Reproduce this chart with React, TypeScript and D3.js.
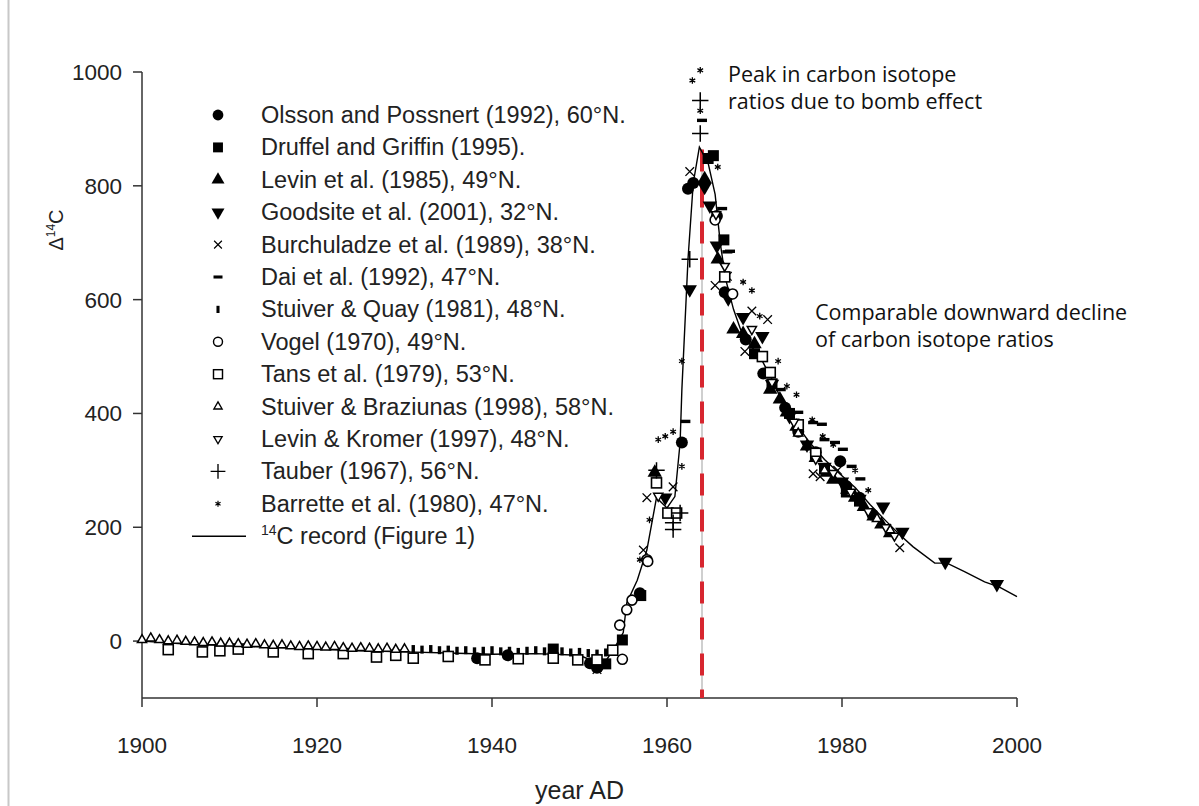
import * as d3 from "d3";
import React from "react";

// [year, delta14C]
const olsson = [
  [1938.3, -30], [1941.8, -25], [1951.2, -39], [1952, -47], [1956.9, 84],
  [1961.7, 349], [1962.4, 795], [1963, 805], [1965.7, 747], [1966.6, 613],
  [1969, 530], [1971, 470], [1973.5, 410], [1975, 368], [1977, 332],
  [1979.8, 316], [1980.5, 272], [1982, 252], [1983.5, 222],
];
const druffel = [
  [1947, -14], [1953, -40], [1954.9, 2], [1957, 80], [1964.7, 848],
  [1965.3, 853], [1966.5, 705], [1970, 505], [1972, 452], [1974, 400],
  [1978, 302], [1980.5, 262], [1982, 246],
];
const levin85 = [
  [1958.6, 296], [1964.3, 812], [1965.8, 671], [1967.6, 548], [1968.7, 540],
  [1970, 522], [1971.8, 442], [1972.9, 425], [1973.7, 402], [1974.8, 377],
  [1976, 342], [1977, 322], [1978.3, 296], [1979, 284], [1980.6, 266],
  [1981.5, 252], [1982.5, 236], [1983.6, 219], [1984.5, 205], [1985.5, 190],
];
const goodsite = [
  [1952.5, -40], [1959.8, 252], [1962.6, 618], [1964.3, 798], [1964.9, 765],
  [1965.7, 695], [1967, 602], [1968.7, 569], [1970.9, 536], [1972, 452],
  [1974, 395], [1976, 345], [1978, 306], [1980, 280], [1982, 250],
  [1984.7, 236], [1986.9, 192], [1991.8, 139], [1997.7, 100],
];
const burchuladze = [
  [1952, -50], [1957.3, 160], [1957.7, 252], [1960.7, 271], [1962.6, 825],
  [1965.5, 625], [1966.9, 641], [1968.9, 509], [1969.7, 580], [1971.5, 565],
  [1976.7, 294], [1977.5, 289], [1979.5, 300], [1986.6, 164],
];
const dai = [
  [1962.1, 386], [1964, 915], [1966.3, 760], [1966.9, 684], [1967.2, 685],
  [1973, 442], [1975, 402], [1976.7, 384], [1977.7, 381], [1978, 354],
  [1979.2, 349], [1980.1, 337], [1981.1, 307], [1982.1, 285],
];
const stuiverQuay = [
  [1931, -14], [1932, -15], [1933, -14], [1934, -16], [1935, -15], [1936, -17],
  [1937, -16], [1938, -18], [1939, -17], [1940, -16], [1941, -18], [1942, -17],
  [1943, -19], [1944, -17], [1945, -16], [1946, -18], [1947, -19], [1948, -18],
  [1949, -20], [1950, -19], [1951, -21], [1952, -22], [1953, -20], [1954, -14],
];
const vogel = [
  [1954.9, -32], [1954.6, 28], [1955.4, 55], [1956, 72], [1957.7, 143],
  [1957.8, 140], [1965.5, 740], [1967.5, 610],
];
const tans = [
  [1903, -15], [1906.9, -19], [1908.9, -17], [1911, -14], [1915, -19],
  [1919, -22], [1923, -22], [1926.8, -28], [1929, -25], [1931, -30],
  [1935, -27], [1939.2, -33], [1943, -31], [1947, -30], [1949.8, -33],
  [1952, -33], [1953.8, -16], [1958.8, 278], [1960.1, 225], [1961.1, 225],
  [1966.6, 640], [1970.9, 500], [1971.8, 472], [1975, 380], [1977, 330],
];
const stuiverBraziunas = [
  [1900, 2], [1901, 5], [1902, 2], [1903, 0], [1904, 1], [1905, -1], [1906, -2],
  [1907, -3], [1908, -2], [1909, -4], [1910, -4], [1911, -5], [1912, -6],
  [1913, -5], [1914, -7], [1915, -8], [1916, -7], [1917, -9], [1918, -10],
  [1919, -9], [1920, -10], [1921, -11], [1922, -10], [1923, -12], [1924, -13],
  [1925, -12], [1926, -13], [1927, -14], [1928, -13], [1929, -15], [1930, -14],
  [1975, 365], [1978, 300], [1981, 260], [1984, 215], [1985.5, 195],
];
const levinKromer = [
  [1959, 255], [1965.6, 750], [1966.6, 659], [1969.7, 548], [1972, 455],
  [1974.5, 385], [1977, 320], [1979, 295], [1981, 262], [1983, 228],
  [1985, 200], [1986, 185],
];
const tauber = [
  [1958.8, 300], [1960.7, 208], [1960.7, 196], [1961.5, 225], [1962.6, 671],
  [1963.8, 950], [1963.8, 892],
];
const barrette = [
  [1956.9, 143], [1958, 213], [1959, 354], [1959.8, 360], [1960.7, 368],
  [1961.7, 307], [1961.7, 492], [1962.9, 985], [1963.8, 1003], [1963.8, 932],
  [1965.8, 833], [1968.7, 631], [1969.7, 616], [1970.6, 571], [1972.7, 492],
  [1973.7, 448], [1974.8, 433], [1976.6, 389], [1977.8, 360], [1979, 345],
  [1981.5, 300], [1983, 265],
];
const record = [
  [1900, 0], [1905, -5], [1910, -8], [1915, -11], [1920, -14], [1925, -17],
  [1930, -19], [1935, -21], [1940, -23], [1945, -22], [1950, -25], [1952, -38],
  [1953, -35], [1954, -12], [1955, 15], [1955.4, 67], [1956.6, 107],
  [1957.7, 160], [1958.8, 252], [1960, 234], [1960.9, 254], [1961.5, 349],
  [1961.7, 442], [1962.4, 671], [1963, 805], [1963.7, 868], [1964.7, 840],
  [1965.5, 785], [1966.1, 698], [1966.7, 636], [1967.6, 583], [1968.4, 548],
  [1969.5, 521], [1970.9, 492], [1972, 460], [1972.9, 430], [1974, 398],
  [1975.2, 372], [1976.3, 349], [1978, 319], [1979.8, 293], [1981.5, 270],
  [1983.2, 240], [1984.9, 213], [1986.6, 187], [1988.1, 166], [1990.6, 137],
  [1992, 137], [1994, 122], [1996.3, 104], [1998, 95], [2000, 78],
];

const xTicks = [1900, 1920, 1940, 1960, 1980, 2000];
const yTicks = [0, 200, 400, 600, 800, 1000];
const peakYear = 1964;

const legendItems = [
  { label: "Olsson and Possnert (1992), 60°N.", kind: "circleF", data: olsson },
  { label: "Druffel and Griffin (1995).", kind: "squareF", data: druffel },
  { label: "Levin et al. (1985), 49°N.", kind: "triUpF", data: levin85 },
  { label: "Goodsite et al. (2001), 32°N.", kind: "triDownF", data: goodsite },
  { label: "Burchuladze et al. (1989), 38°N.", kind: "times", data: burchuladze },
  { label: "Dai et al. (1992), 47°N.", kind: "dash", data: dai },
  { label: "Stuiver & Quay (1981), 48°N.", kind: "bar", data: stuiverQuay },
  { label: "Vogel (1970), 49°N.", kind: "circleO", data: vogel },
  { label: "Tans et al. (1979), 53°N.", kind: "squareO", data: tans },
  { label: "Stuiver & Braziunas (1998), 58°N.", kind: "triUpO", data: stuiverBraziunas },
  { label: "Levin & Kromer (1997), 48°N.", kind: "triDownO", data: levinKromer },
  { label: "Tauber (1967), 56°N.", kind: "plus", data: tauber },
  { label: "Barrette et al. (1980), 47°N.", kind: "star", data: barrette },
];

const font = "'Liberation Sans', Arial, sans-serif";
const noteFont = "'Open Sans', sans-serif";

const Marker = ({ kind, x, y, s = 1 }) => {
  const t = `translate(${x},${y}) scale(${s})`;
  switch (kind) {
    case "circleF":
      return <circle transform={t} r={6} fill="#000" />;
    case "squareF":
      return <rect transform={t} x={-5.5} y={-5.5} width={11} height={11} fill="#000" />;
    case "triUpF":
      return <path transform={t} d={d3.symbol(d3.symbolTriangle, 90)()} fill="#000" />;
    case "triDownF":
      return <path transform={t + " rotate(180)"} d={d3.symbol(d3.symbolTriangle, 90)()} fill="#000" />;
    case "times":
      return <path transform={t} d={d3.symbol(d3.symbolTimes, 50)()} fill="none" stroke="#000" strokeWidth={1.3} />;
    case "dash":
      return <rect transform={t} x={-5} y={-1.7} width={10} height={3.4} fill="#000" />;
    case "bar":
      return <rect transform={t} x={-1.7} y={-4} width={3.4} height={8} fill="#000" />;
    case "circleO":
      return <circle transform={t} r={5} fill="#fff" stroke="#000" strokeWidth={1.6} />;
    case "squareO":
      return <rect transform={t} x={-5} y={-5} width={10} height={10} fill="#fff" stroke="#000" strokeWidth={1.6} />;
    case "triUpO":
      return <path transform={t} d={d3.symbol(d3.symbolTriangle2, 60)()} fill="#fff" stroke="#000" strokeWidth={1.5} />;
    case "triDownO":
      return <path transform={t + " rotate(180)"} d={d3.symbol(d3.symbolTriangle2, 60)()} fill="#fff" stroke="#000" strokeWidth={1.5} />;
    case "plus":
      return <path transform={t} d={d3.symbol(d3.symbolPlus, 90)()} fill="none" stroke="#000" strokeWidth={1.5} />;
    case "star":
      return <path transform={t} d={d3.symbol(d3.symbolAsterisk, 30)()} fill="none" stroke="#000" strokeWidth={1.3} />;
    default:
      return null;
  }
};

export default function App() {
  const width = 1199;
  const height = 806;
  const x = d3.scaleLinear().domain([1900, 2000]).range([142, 1017]);
  const y = d3.scaleLinear().domain([-100, 1000]).range([698, 72]);
  const line = d3.line().x((d) => x(d[0])).y((d) => y(d[1]));

  const legX = 218;
  const legY0 = 115;
  const legStep = 32.4;

  return (
    <svg width={width} height={height} style={{ position: "absolute", left: 0, top: 0, background: "#fff" }}>
      <line x1={8.5} x2={8.5} y1={0} y2={height} stroke="#c8c8c8" strokeWidth={2} />

      {/* axes */}
      <g stroke="#333" strokeWidth={1.5}>
        <line x1={x(1900)} x2={x(1900)} y1={y(1000)} y2={y(-100)} />
        <line x1={x(1900)} x2={x(2000)} y1={y(-100)} y2={y(-100)} />
        {yTicks.map((t) => (
          <line key={t} x1={x(1900) - 9} x2={x(1900)} y1={y(t)} y2={y(t)} />
        ))}
        {xTicks.map((t) => (
          <line key={t} x1={x(t)} x2={x(t)} y1={y(-100)} y2={y(-100) + 9} />
        ))}
      </g>
      <g fontFamily={font} fontSize={22.5} fill="#222">
        {yTicks.map((t) => (
          <text key={t} x={122} y={y(t) + 8} textAnchor="end">{t}</text>
        ))}
        {xTicks.map((t) => (
          <text key={t} x={x(t)} y={753} textAnchor="middle">{t}</text>
        ))}
        <text x={x(1950)} y={799} textAnchor="middle" fontSize={25}>year AD</text>
        <text transform="translate(63,230) rotate(-90)" textAnchor="middle" fontSize={20}>
          Δ<tspan fontSize={12} dy={-8}>14</tspan><tspan dy={8}>C</tspan>
        </text>
      </g>

      {/* bomb peak marker */}
      <line x1={x(peakYear)} x2={x(peakYear)} y1={y(864)} y2={y(-100)} stroke="#cfcfcf" strokeWidth={2} />
      <line x1={x(peakYear)} x2={x(peakYear)} y1={y(864)} y2={y(-100)} stroke="#d7262f" strokeWidth={4} strokeDasharray="22 14" />

      {/* record line */}
      <path d={line(record)} fill="none" stroke="#000" strokeWidth={1.4} />

      {/* data */}
      {legendItems.map((s) => (
        <g key={s.label}>
          {s.data.map((d, i) => (
            <Marker key={i} kind={s.kind} x={x(d[0])} y={y(d[1])} />
          ))}
        </g>
      ))}

      {/* legend */}
      <g fontFamily={font} fontSize={23.5} fill="#222">
        {legendItems.map((s, i) => (
          <g key={s.label}>
            <Marker kind={s.kind} x={legX} y={legY0 + i * legStep} s={0.9} />
            <text x={261} y={legY0 + i * legStep + 8}>{s.label}</text>
          </g>
        ))}
        <line x1={192} x2={246} y1={legY0 + 13 * legStep} y2={legY0 + 13 * legStep} stroke="#000" strokeWidth={1.5} />
        <text x={261} y={legY0 + 13 * legStep + 8}>
          <tspan fontSize={14} dy={-9}>14</tspan><tspan dy={9}>C record (Figure 1)</tspan>
        </text>
      </g>

      {/* annotations */}
      <g fontFamily={noteFont} fontSize={21.5} fill="#111">
        <text x={728} y={82}>Peak in carbon isotope</text>
        <text x={728} y={109}>ratios due to bomb effect</text>
        <text x={815} y={320}>Comparable downward decline</text>
        <text x={815} y={347}>of carbon isotope ratios</text>
      </g>
    </svg>
  );
}
